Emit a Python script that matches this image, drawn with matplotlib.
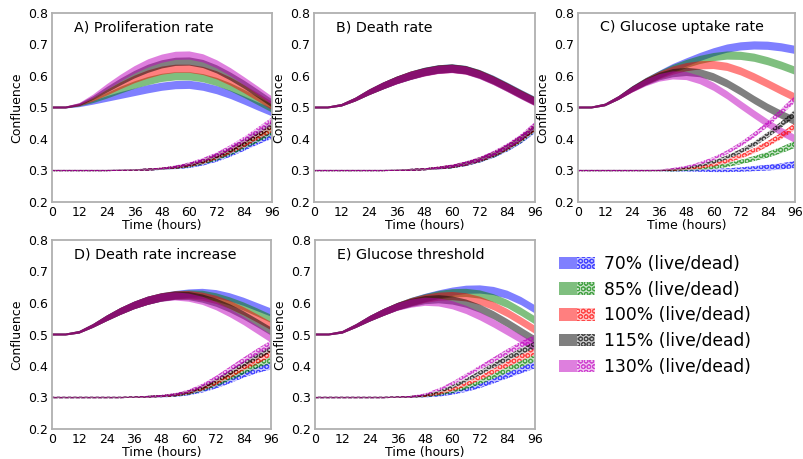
import matplotlib.pyplot as plt
from matplotlib.patches import Patch
from matplotlib.legend_handler import HandlerTuple
from matplotlib.colors import to_rgba

# time axis (hours)
hours = [0, 6, 12, 18, 24, 30, 36, 42, 48, 54, 60, 66, 72, 78, 84, 90, 96]

levels = ["70%", "85%", "100%", "115%", "130%"]
colors = ["b", "g", "r", "k", "m"]
titles = ["A) Proliferation rate", "B) Death rate", "C) Glucose uptake rate",
          "D) Death rate increase", "E) Glucose threshold"]

# band half widths (shared by the levels)
live_sd = [0.003, 0.003, 0.004, 0.006, 0.009, 0.011, 0.012, 0.013, 0.013, 0.013,
           0.013, 0.013, 0.013, 0.013, 0.013, 0.013, 0.013]
dead_sd = [0.002, 0.002, 0.002, 0.002, 0.002, 0.002, 0.002, 0.003, 0.003, 0.004,
           0.005, 0.006, 0.007, 0.008, 0.009, 0.010, 0.011]

# A) proliferation rate
a_live = [
    [0.500, 0.500, 0.505, 0.515, 0.527, 0.538, 0.548, 0.558, 0.566, 0.571, 0.572, 0.566, 0.555, 0.540, 0.522, 0.503, 0.485],
    [0.500, 0.500, 0.507, 0.520, 0.537, 0.555, 0.571, 0.584, 0.594, 0.599, 0.599, 0.593, 0.581, 0.564, 0.543, 0.520, 0.497],
    [0.500, 0.500, 0.508, 0.525, 0.547, 0.569, 0.589, 0.605, 0.617, 0.623, 0.623, 0.616, 0.602, 0.582, 0.558, 0.532, 0.505],
    [0.500, 0.500, 0.509, 0.530, 0.556, 0.581, 0.604, 0.623, 0.637, 0.645, 0.646, 0.638, 0.621, 0.598, 0.572, 0.543, 0.513],
    [0.500, 0.500, 0.510, 0.535, 0.565, 0.593, 0.619, 0.640, 0.655, 0.664, 0.665, 0.656, 0.637, 0.612, 0.583, 0.553, 0.522],
]
a_dead = [
    [0.300, 0.300, 0.300, 0.300, 0.300, 0.301, 0.302, 0.303, 0.305, 0.308, 0.313, 0.322, 0.335, 0.352, 0.372, 0.393, 0.412],
    [0.300, 0.300, 0.300, 0.300, 0.300, 0.301, 0.302, 0.303, 0.305, 0.309, 0.315, 0.325, 0.339, 0.357, 0.378, 0.400, 0.423],
    [0.300, 0.300, 0.300, 0.300, 0.300, 0.301, 0.302, 0.303, 0.306, 0.310, 0.317, 0.328, 0.343, 0.362, 0.384, 0.408, 0.433],
    [0.300, 0.300, 0.300, 0.300, 0.300, 0.301, 0.302, 0.303, 0.306, 0.311, 0.319, 0.331, 0.347, 0.367, 0.391, 0.417, 0.445],
    [0.300, 0.300, 0.300, 0.300, 0.300, 0.301, 0.302, 0.303, 0.306, 0.312, 0.321, 0.334, 0.351, 0.373, 0.399, 0.428, 0.458],
]

# B) death rate
b_live = [
    [0.500, 0.500, 0.507, 0.525, 0.548, 0.568, 0.586, 0.601, 0.613, 0.621, 0.624, 0.619, 0.606, 0.588, 0.566, 0.543, 0.521],
    [0.500, 0.500, 0.507, 0.525, 0.548, 0.568, 0.586, 0.601, 0.613, 0.621, 0.624, 0.619, 0.606, 0.587, 0.565, 0.542, 0.520],
    [0.500, 0.500, 0.507, 0.525, 0.548, 0.568, 0.586, 0.601, 0.612, 0.620, 0.623, 0.618, 0.605, 0.586, 0.564, 0.541, 0.519],
    [0.500, 0.500, 0.507, 0.525, 0.548, 0.568, 0.586, 0.600, 0.612, 0.620, 0.623, 0.618, 0.604, 0.585, 0.563, 0.540, 0.518],
    [0.500, 0.500, 0.507, 0.525, 0.548, 0.568, 0.585, 0.600, 0.611, 0.619, 0.622, 0.617, 0.603, 0.584, 0.562, 0.539, 0.517],
]
b_dead = [
    [0.300, 0.300, 0.300, 0.300, 0.300, 0.300, 0.301, 0.302, 0.304, 0.307, 0.312, 0.320, 0.332, 0.348, 0.369, 0.396, 0.430],
    [0.300, 0.300, 0.300, 0.300, 0.300, 0.300, 0.301, 0.302, 0.304, 0.307, 0.312, 0.321, 0.333, 0.349, 0.371, 0.398, 0.433],
    [0.300, 0.300, 0.300, 0.300, 0.300, 0.300, 0.301, 0.302, 0.304, 0.308, 0.313, 0.321, 0.334, 0.351, 0.373, 0.401, 0.436],
    [0.300, 0.300, 0.300, 0.300, 0.300, 0.300, 0.301, 0.302, 0.304, 0.308, 0.313, 0.322, 0.335, 0.352, 0.375, 0.403, 0.439],
    [0.300, 0.300, 0.300, 0.300, 0.300, 0.300, 0.301, 0.302, 0.304, 0.308, 0.314, 0.323, 0.336, 0.354, 0.377, 0.406, 0.443],
]

# C) glucose uptake rate
c_live = [
    [0.500, 0.500, 0.508, 0.530, 0.558, 0.582, 0.604, 0.625, 0.643, 0.660, 0.675, 0.687, 0.694, 0.697, 0.696, 0.691, 0.683],
    [0.500, 0.500, 0.508, 0.530, 0.558, 0.582, 0.603, 0.622, 0.638, 0.651, 0.660, 0.665, 0.664, 0.658, 0.647, 0.633, 0.617],
    [0.500, 0.500, 0.508, 0.530, 0.557, 0.581, 0.601, 0.617, 0.628, 0.634, 0.635, 0.629, 0.615, 0.596, 0.575, 0.553, 0.532],
    [0.500, 0.500, 0.508, 0.530, 0.557, 0.580, 0.598, 0.609, 0.613, 0.609, 0.596, 0.576, 0.551, 0.524, 0.499, 0.477, 0.457],
    [0.500, 0.500, 0.508, 0.530, 0.556, 0.578, 0.594, 0.602, 0.600, 0.587, 0.566, 0.539, 0.508, 0.478, 0.449, 0.423, 0.400],
]
c_dead = [
    [0.300, 0.300, 0.300, 0.300, 0.300, 0.300, 0.300, 0.300, 0.300, 0.300, 0.300, 0.301, 0.303, 0.306, 0.309, 0.313, 0.319],
    [0.300, 0.300, 0.300, 0.300, 0.300, 0.300, 0.300, 0.300, 0.302, 0.305, 0.310, 0.317, 0.327, 0.338, 0.350, 0.365, 0.383],
    [0.300, 0.300, 0.300, 0.300, 0.300, 0.300, 0.300, 0.302, 0.305, 0.310, 0.318, 0.330, 0.345, 0.363, 0.385, 0.410, 0.440],
    [0.300, 0.300, 0.300, 0.300, 0.300, 0.300, 0.300, 0.303, 0.308, 0.316, 0.327, 0.342, 0.361, 0.384, 0.413, 0.446, 0.482],
    [0.300, 0.300, 0.300, 0.300, 0.300, 0.300, 0.301, 0.305, 0.312, 0.323, 0.338, 0.358, 0.383, 0.413, 0.448, 0.487, 0.527],
]

# D) death rate increase
d_live = [
    [0.500, 0.500, 0.507, 0.527, 0.551, 0.573, 0.592, 0.607, 0.618, 0.625, 0.630, 0.632, 0.628, 0.618, 0.604, 0.587, 0.570],
    [0.500, 0.500, 0.507, 0.527, 0.551, 0.573, 0.592, 0.607, 0.618, 0.624, 0.627, 0.626, 0.618, 0.605, 0.589, 0.570, 0.550],
    [0.500, 0.500, 0.507, 0.527, 0.551, 0.573, 0.592, 0.607, 0.618, 0.624, 0.625, 0.620, 0.610, 0.594, 0.574, 0.551, 0.527],
    [0.500, 0.500, 0.507, 0.527, 0.551, 0.573, 0.592, 0.607, 0.617, 0.623, 0.622, 0.614, 0.601, 0.583, 0.561, 0.536, 0.510],
    [0.500, 0.500, 0.507, 0.527, 0.551, 0.573, 0.592, 0.607, 0.617, 0.621, 0.617, 0.607, 0.590, 0.568, 0.543, 0.515, 0.487],
]
d_dead = [
    [0.300, 0.300, 0.300, 0.300, 0.300, 0.300, 0.301, 0.302, 0.303, 0.306, 0.312, 0.322, 0.336, 0.353, 0.372, 0.388, 0.400],
    [0.300, 0.300, 0.300, 0.300, 0.300, 0.300, 0.301, 0.302, 0.304, 0.307, 0.314, 0.326, 0.342, 0.362, 0.383, 0.403, 0.420],
    [0.300, 0.300, 0.300, 0.300, 0.300, 0.300, 0.301, 0.302, 0.304, 0.308, 0.316, 0.329, 0.347, 0.370, 0.394, 0.417, 0.440],
    [0.300, 0.300, 0.300, 0.300, 0.300, 0.300, 0.301, 0.302, 0.305, 0.309, 0.318, 0.333, 0.354, 0.379, 0.405, 0.430, 0.455],
    [0.300, 0.300, 0.300, 0.300, 0.300, 0.300, 0.301, 0.302, 0.305, 0.310, 0.320, 0.338, 0.362, 0.390, 0.418, 0.445, 0.470],
]

# E) glucose threshold
e_live = [
    [0.500, 0.500, 0.507, 0.527, 0.550, 0.570, 0.588, 0.603, 0.616, 0.627, 0.636, 0.642, 0.643, 0.638, 0.626, 0.606, 0.580],
    [0.500, 0.500, 0.507, 0.527, 0.550, 0.570, 0.588, 0.603, 0.615, 0.625, 0.631, 0.632, 0.627, 0.615, 0.597, 0.572, 0.545],
    [0.500, 0.500, 0.507, 0.527, 0.550, 0.570, 0.588, 0.602, 0.613, 0.620, 0.622, 0.618, 0.607, 0.590, 0.568, 0.542, 0.515],
    [0.500, 0.500, 0.507, 0.527, 0.550, 0.570, 0.588, 0.600, 0.609, 0.612, 0.608, 0.598, 0.582, 0.561, 0.536, 0.509, 0.482],
    [0.500, 0.500, 0.507, 0.527, 0.550, 0.570, 0.587, 0.598, 0.604, 0.602, 0.593, 0.578, 0.558, 0.535, 0.510, 0.485, 0.460],
]
e_dead = [
    [0.300, 0.300, 0.300, 0.300, 0.300, 0.300, 0.301, 0.302, 0.303, 0.307, 0.314, 0.324, 0.337, 0.353, 0.370, 0.387, 0.403],
    [0.300, 0.300, 0.300, 0.300, 0.300, 0.300, 0.301, 0.302, 0.304, 0.310, 0.319, 0.332, 0.349, 0.368, 0.388, 0.407, 0.425],
    [0.300, 0.300, 0.300, 0.300, 0.300, 0.300, 0.301, 0.302, 0.305, 0.313, 0.325, 0.342, 0.362, 0.384, 0.406, 0.427, 0.446],
    [0.300, 0.300, 0.300, 0.300, 0.300, 0.300, 0.301, 0.302, 0.307, 0.318, 0.334, 0.355, 0.378, 0.402, 0.425, 0.447, 0.467],
    [0.300, 0.300, 0.300, 0.300, 0.300, 0.300, 0.301, 0.302, 0.310, 0.325, 0.345, 0.370, 0.395, 0.420, 0.445, 0.468, 0.488],
]

panels = [(a_live, a_dead), (b_live, b_dead), (c_live, c_dead),
          (d_live, d_dead), (e_live, e_dead)]

plt.rcParams['hatch.linewidth'] = 0.7
W, H = 804, 459
fig = plt.figure(figsize=(W / 100, H / 100), dpi=100)

# axes boxes in pixels: left, right, top, bottom
boxes = [(52, 272, 13, 202), (314, 535, 13, 202), (578, 795, 13, 202),
         (52, 271, 240, 429), (315, 535, 240, 429)]

hatch = "OOO"


def band(ax, mid, sd, color, hatched):
    lo = [m - s for m, s in zip(mid, sd)]
    hi = [m + s for m, s in zip(mid, sd)]
    if hatched:
        ax.fill_between(hours, lo, hi, facecolor=to_rgba(color, 0.22), lw=0)
        ax.fill_between(hours, lo, hi, facecolor="none",
                        edgecolor=to_rgba(color, 0.6), hatch=hatch, lw=0)
    else:
        ax.fill_between(hours, lo, hi, facecolor=color, alpha=0.5, lw=0)


for (live, dead), title, (l, r, t, b) in zip(panels, titles, boxes):
    ax = fig.add_axes([l / W, 1 - b / H, (r - l) / W, (b - t) / H])
    for i, c in enumerate(colors):
        band(ax, live[i], live_sd, c, False)
    for i, c in enumerate(colors):
        band(ax, dead[i], dead_sd, c, True)
    ax.set_xlim(0, 96)
    ax.set_ylim(0.2, 0.8)
    ax.set_xticks(range(0, 97, 12))
    ax.set_yticks([0.2, 0.3, 0.4, 0.5, 0.6, 0.7, 0.8])
    ax.tick_params(length=0, labelsize=9, pad=3)
    for s in ax.spines.values():
        s.set_color("#b0b0b0")
        s.set_linewidth(1.3)
    ax.set_xlabel("Time (hours)", fontsize=9, labelpad=0)
    ax.set_ylabel("Confluence", fontsize=9, labelpad=3)
    ax.text(0.1, 0.925, title, transform=ax.transAxes, fontsize=10.3,
            va="center", ha="left")

handles = []
for c in colors:
    solid = Patch(facecolor=c, alpha=0.5, lw=0)
    hatched = Patch(facecolor=to_rgba(c, 0.22), edgecolor=to_rgba(c, 0.6),
                    hatch=hatch, lw=0)
    handles.append((solid, hatched))
labels = [lv + " (live/dead)" for lv in levels]

fig.legend(handles, labels, loc="upper left",
           bbox_to_anchor=(559 / W, 1 - 255 / H), frameon=False,
           fontsize=12.3, handler_map={tuple: HandlerTuple(ndivide=None, pad=0)},
           handlelength=2.1, handleheight=0.75, handletextpad=0.55,
           labelspacing=0.45, borderpad=0, borderaxespad=0)

fig.savefig("out.png", dpi=100)
